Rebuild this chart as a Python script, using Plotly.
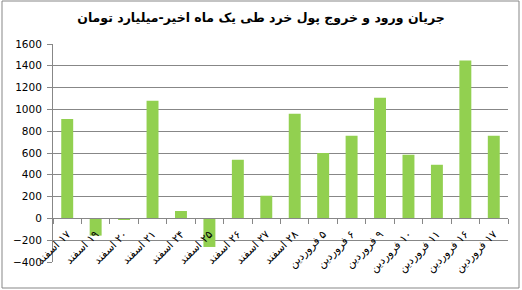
import plotly.graph_objects as go

categories = ["۱۷ اسفند", "۱۹ اسفند", "۲۰ اسفند", "۲۱ اسفند", "۲۴ اسفند", "۲۵ اسفند",
              "۲۶ اسفند", "۲۷ اسفند", "۲۸ اسفند", "۵ فروردین", "۶ فروردین", "۹ فروردین",
              "۱۰ فروردین", "۱۱ فروردین", "۱۶ فروردین", "۱۷ فروردین"]
values = [912, -158, -12, 1080, 68, -262, 538, 208, 960, 600, 758, 1108, 583, 492, 1448, 758]
y_ticks = [-400, -200, 0, 200, 400, 600, 800, 1000, 1200, 1400, 1600]
title = "جریان ورود و خروج پول خرد طی یک ماه اخیر-میلیارد تومان"

W, H = 522, 290
ml, mr, mt, mb = 53, 14, 44, 28
pw, ph = W - ml - mr, H - mt - mb
ymin, ymax = -400, 1600

labels = ["\u200f" + c for c in categories]

fig = go.Figure(go.Bar(x=labels, y=values, marker_color="#92D050", marker_line_width=0))

grid = "#878787"
fig.update_layout(
    width=W, height=H, margin=dict(l=ml, r=mr, t=mt, b=mb),
    paper_bgcolor="white", plot_bgcolor="white",
    bargap=0.58, showlegend=False,
    font=dict(family="DejaVu Sans", color="black"),
    title=dict(text="<b>" + title + "</b>", x=0.5, xref="container", xanchor="center",
               y=1 - 18 / H, yref="container", yanchor="middle",
               font=dict(size=12.5, family="DejaVu Sans", color="black")),
    xaxis=dict(type="category", anchor="free", position=(0 - ymin) / (ymax - ymin),
               showline=True, linecolor=grid, linewidth=1,
               ticks="outside", tickson="boundaries", ticklen=5, tickcolor=grid,
               tickangle=-45, tickfont=dict(size=11, family="DejaVu Sans"),
               ticklabelstandoff=4,
               showgrid=False, automargin=False),
    yaxis=dict(range=[ymin, ymax], tickvals=y_ticks, showline=True, linecolor=grid,
               linewidth=1, ticks="outside", ticklen=5, tickcolor=grid,
               ticklabelstandoff=3,
               showgrid=True, gridcolor=grid, gridwidth=1, zeroline=False,
               tickfont=dict(size=10.5, family="DejaVu Sans"), automargin=False),
    shapes=[dict(type="rect", xref="paper", yref="paper",
                 x0=(2 - ml) / pw, x1=(519 - ml) / pw,
                 y0=(mt + ph - 288) / ph, y1=(mt + ph - 1) / ph,
                 line=dict(color=grid, width=1), fillcolor="rgba(0,0,0,0)", layer="below")],
)

fig.write_html("out.html")
